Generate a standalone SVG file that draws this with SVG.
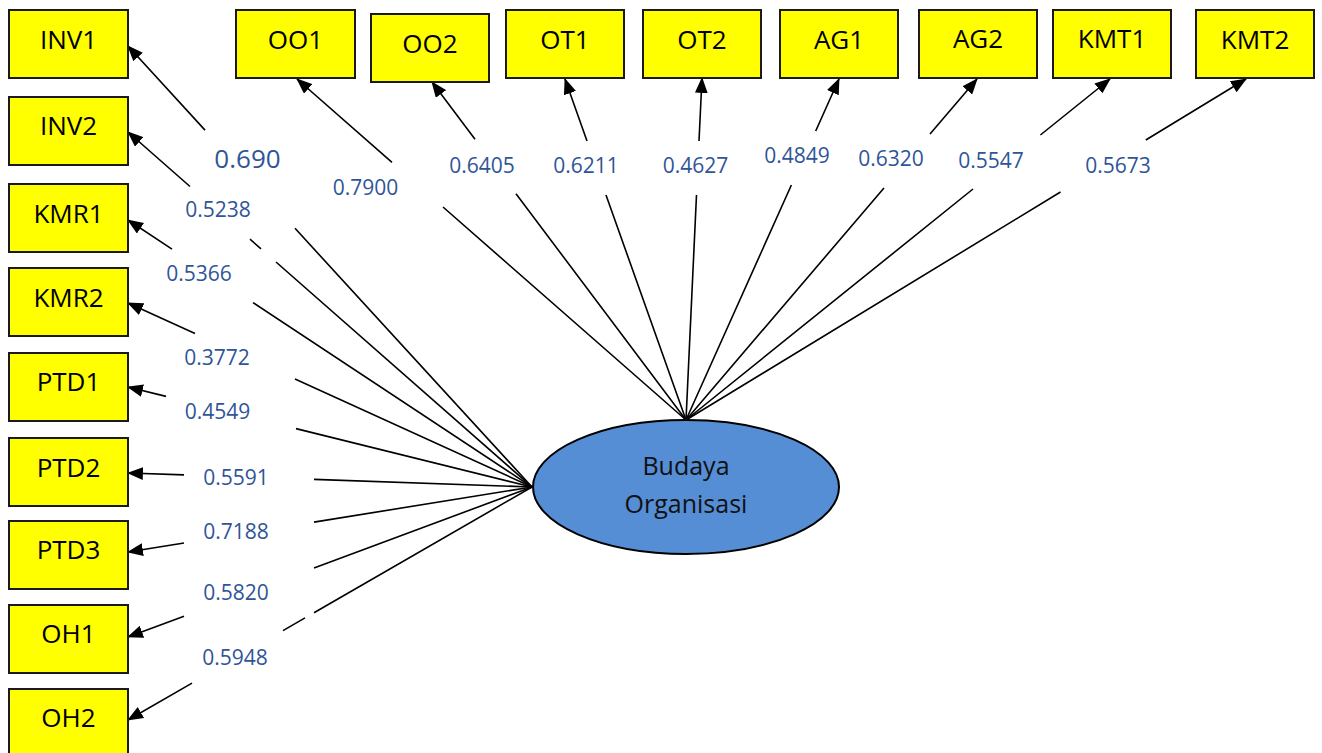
<svg xmlns="http://www.w3.org/2000/svg" width="1322" height="753" viewBox="0 0 1322 753">
<style>
.box{fill:#FFFF00;stroke:#1a1a1a;stroke-width:2}
.bt{font-family:"Open Sans","Liberation Sans",sans-serif;font-size:26px;fill:#000;text-anchor:middle}
.lb{font-family:"Open Sans","Liberation Sans",sans-serif;font-size:21px;fill:#2F5597;text-anchor:middle}
.cn{fill:none;stroke:#000;stroke-width:1.6;marker-end:url(#ah)}
.el{fill:#558ED5;stroke:#000;stroke-width:2}
.et{font-family:"Open Sans","Liberation Sans",sans-serif;font-size:25px;fill:#111;text-anchor:middle}
</style>
<defs>
<marker id="ah" markerUnits="userSpaceOnUse" markerWidth="16" markerHeight="13" viewBox="0 0 15 12" refX="14" refY="6" orient="auto">
<path d="M0,0 L15,6 L0,12 z" fill="#000"/>
</marker>
</defs>
<rect width="1322" height="753" fill="#fff"/>

<g id="connectors">
<path class="cn" d="M532,487 L295,228.3 M205,130.1 L128,46"/>
<path class="cn" d="M532,487 L276,262 M261,248.9 L250,239.2 M190,186.5 L128,132"/>
<path class="cn" d="M532,487 L253,302.6 M172,249.1 L128,220"/>
<path class="cn" d="M532,487 L295,379.1 M195,333.5 L128,303"/>
<path class="cn" d="M532,487 L296,428.6 M166,396.4 L128,387"/>
<path class="cn" d="M532,487 L314,479.4 M184,474.9 L128,473"/>
<path class="cn" d="M532,487 L314,522.1 M184,543 L128,552"/>
<path class="cn" d="M532,487 L314,567.9 M184,616.2 L128,637"/>
<path class="cn" d="M532,487 L314,612.7 M305,617.9 L283,630.6 M192,683.1 L128,720"/>
<path class="cn" d="M686,420 L443,207 M392,162.3 L297,79"/>
<path class="cn" d="M686,420 L516,193.8 M475,139.2 L432,82"/>
<path class="cn" d="M686,420 L606,195 M587,141 L565,79"/>
<path class="cn" d="M686,420 L696.5,195 M699,141 L702,78"/>
<path class="cn" d="M686,420 L791.4,185 M815.7,131 L839,79"/>
<path class="cn" d="M686,420 L884,188 M930,134 L977,79"/>
<path class="cn" d="M686,420 L973,189 M1040.4,135 L1110,79"/>
<path class="cn" d="M686,420 L1060.5,192 M1145.8,140 L1246,79"/>
</g>

<g id="labels">
<text class="lb" x="247.5" y="168" style="font-size:26px">0.690</text>
<text class="lb" x="218" y="217">0.5238</text>
<text class="lb" x="199" y="281">0.5366</text>
<text class="lb" x="217" y="365">0.3772</text>
<text class="lb" x="217.5" y="419">0.4549</text>
<text class="lb" x="236" y="485">0.5591</text>
<text class="lb" x="236" y="539">0.7188</text>
<text class="lb" x="236" y="600">0.5820</text>
<text class="lb" x="235" y="665">0.5948</text>
<text class="lb" x="365.5" y="195">0.7900</text>
<text class="lb" x="482" y="173">0.6405</text>
<text class="lb" x="586" y="173">0.6211</text>
<text class="lb" x="695.5" y="173">0.4627</text>
<text class="lb" x="797" y="163">0.4849</text>
<text class="lb" x="891" y="166">0.6320</text>
<text class="lb" x="991" y="168">0.5547</text>
<text class="lb" x="1118" y="173">0.5673</text>
</g>

<g id="node-INV1"><rect class="box" x="9" y="10" width="119" height="68"/><text class="bt" x="68.5" y="49">INV1</text></g>
<g id="node-INV2"><rect class="box" x="9" y="97" width="119" height="68"/><text class="bt" x="68.5" y="135">INV2</text></g>
<g id="node-KMR1"><rect class="box" x="9" y="184" width="119" height="68"/><text class="bt" x="68.5" y="222.5">KMR1</text></g>
<g id="node-KMR2"><rect class="box" x="9" y="268" width="119" height="68"/><text class="bt" x="68.5" y="307">KMR2</text></g>
<g id="node-PTD1"><rect class="box" x="9" y="353" width="119" height="68"/><text class="bt" x="68.5" y="391">PTD1</text></g>
<g id="node-PTD2"><rect class="box" x="9" y="438" width="119" height="68"/><text class="bt" x="68.5" y="476.5">PTD2</text></g>
<g id="node-PTD3"><rect class="box" x="9" y="521" width="119" height="68"/><text class="bt" x="68.5" y="559">PTD3</text></g>
<g id="node-OH1"><rect class="box" x="9" y="605" width="119" height="68"/><text class="bt" x="68.5" y="643">OH1</text></g>
<g id="node-OH2"><rect class="box" x="9" y="689" width="119" height="68"/><text class="bt" x="68.5" y="727">OH2</text></g>

<g id="node-OO1"><rect class="box" x="236" y="10" width="119" height="68"/><text class="bt" x="295.5" y="49">OO1</text></g>
<g id="node-OO2"><rect class="box" x="371" y="14" width="118" height="68"/><text class="bt" x="430" y="53">OO2</text></g>
<g id="node-OT1"><rect class="box" x="506" y="10" width="118" height="68"/><text class="bt" x="565" y="49">OT1</text></g>
<g id="node-OT2"><rect class="box" x="643" y="10" width="118" height="68"/><text class="bt" x="702" y="49">OT2</text></g>
<g id="node-AG1"><rect class="box" x="780" y="10" width="118" height="68"/><text class="bt" x="839" y="49">AG1</text></g>
<g id="node-AG2"><rect class="box" x="919" y="10" width="118" height="68"/><text class="bt" x="978" y="48">AG2</text></g>
<g id="node-KMT1"><rect class="box" x="1053" y="10" width="118" height="68"/><text class="bt" x="1112" y="48">KMT1</text></g>
<g id="node-KMT2"><rect class="box" x="1196" y="10" width="118" height="68"/><text class="bt" x="1255" y="49">KMT2</text></g>

<g id="node-BudayaOrganisasi">
<ellipse class="el" cx="686" cy="487" rx="153" ry="67"/>
<text class="et" x="686" y="475">Budaya</text>
<text class="et" x="686" y="513">Organisasi</text>
</g>
</svg>
